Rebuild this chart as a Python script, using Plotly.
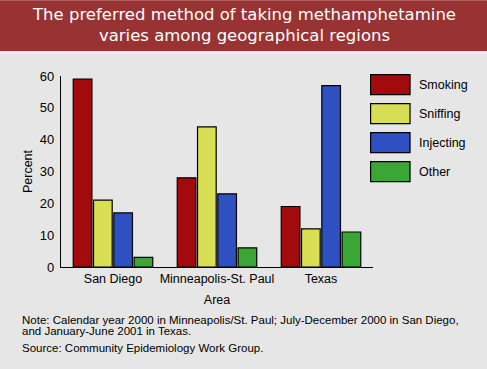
import plotly.graph_objects as go

categories = ["San Diego", "Minneapolis-St. Paul", "Texas"]
series_names = ["Smoking", "Sniffing", "Injecting", "Other"]
smoking = [59, 28, 19]
sniffing = [21, 44, 12]
injecting = [17, 23, 57]
other = [3, 6, 11]
y_ticks = [0, 10, 20, 30, 40, 50, 60]
colors = ["#a20b0d", "#d8df55", "#2f50c0", "#3aa636"]

title_text = "The preferred method of taking methamphetamine<br>varies among geographical regions"
note_lines = ["Note: Calendar year 2000 in Minneapolis/St. Paul; July-December 2000 in San Diego,",
              "and January-June 2001 in Texas."]
source_text = "Source: Community Epidemiology Work Group."

W, H = 487, 369
L, R, T, B = 61, 372.7, 75.7, 266.7
pw, ph = R - L, B - T

def px(x):
    return (x - L) / pw

def py(y):
    return (B - y) / ph

fig = go.Figure()
for name, vals, col in zip(series_names, [smoking, sniffing, injecting, other], colors):
    fig.add_trace(go.Bar(x=categories, y=vals, name=name,
                         marker=dict(color=col, line=dict(color="black", width=1.2))))

shapes = []
annotations = []
# title band
shapes.append(dict(type="rect", xref="paper", yref="paper", x0=px(0), x1=px(W),
                   y0=py(51), y1=py(0), fillcolor="#993333", line=dict(width=0), layer="below"))
shapes.append(dict(type="rect", xref="paper", yref="paper", x0=px(0), x1=px(W),
                   y0=py(53), y1=py(51), fillcolor="#f2f2f2", line=dict(width=0), layer="below"))
annotations.append(dict(text=title_text, xref="paper", yref="paper", x=px(244), y=py(25),
                        xanchor="center", yanchor="middle", showarrow=False, align="center",
                        font=dict(family="DejaVu Sans", size=16.5, color="white")))

# custom legend
for i, (name, col) in enumerate(zip(series_names, colors)):
    top = 74.3 + i * 29
    shapes.append(dict(type="rect", xref="paper", yref="paper", x0=px(370.3), x1=px(409.7),
                       y0=py(top + 20), y1=py(top), fillcolor=col,
                       line=dict(color="black", width=1.2)))
    annotations.append(dict(text=name, xref="paper", yref="paper", x=px(416.5), y=py(top + 10),
                            xanchor="left", yanchor="middle", showarrow=False,
                            font=dict(family="Liberation Sans, Arial", size=12.5, color="black")))

for j, line in enumerate(note_lines):
    annotations.append(dict(text=line, xref="paper", yref="paper", x=px(20), y=py(320 + 11 * j),
                            xanchor="left", yanchor="middle", showarrow=False, align="left",
                            font=dict(family="Liberation Sans, Arial", size=11.5, color="black")))
annotations.append(dict(text=source_text, xref="paper", yref="paper", x=px(20), y=py(348),
                        xanchor="left", yanchor="middle", showarrow=False, align="left",
                        font=dict(family="Liberation Sans, Arial", size=11.5, color="black")))

fig.update_layout(
    width=W, height=H,
    margin=dict(l=L, r=W - R, t=T, b=H - B, pad=0),
    paper_bgcolor="#e6e6e6", plot_bgcolor="#e6e6e6",
    barmode="group", bargap=0.22, bargroupgap=0.08,
    showlegend=False,
    shapes=shapes, annotations=annotations,
    font=dict(family="Liberation Sans, Arial", color="black"),
)
fig.update_yaxes(range=[0, 60], tickvals=y_ticks, showgrid=False, zeroline=False,
                 showline=True, linecolor="black", linewidth=1.2,
                 tickfont=dict(size=13), ticks="outside", ticklen=3, tickcolor="rgba(0,0,0,0)",
                 title=dict(text="Percent", font=dict(size=12.5), standoff=4))
fig.update_xaxes(range=[-0.5, 2.5], showgrid=False, showline=True, linecolor="black", linewidth=1.2,
                 tickfont=dict(size=12.5), ticks="", ticklen=0,
                 title=dict(text="Area", font=dict(size=12.5), standoff=10))

fig.write_html("out.html", config={"displayModeBar": False},
               post_script="document.body.style.margin='0';document.body.style.overflow='hidden';")
